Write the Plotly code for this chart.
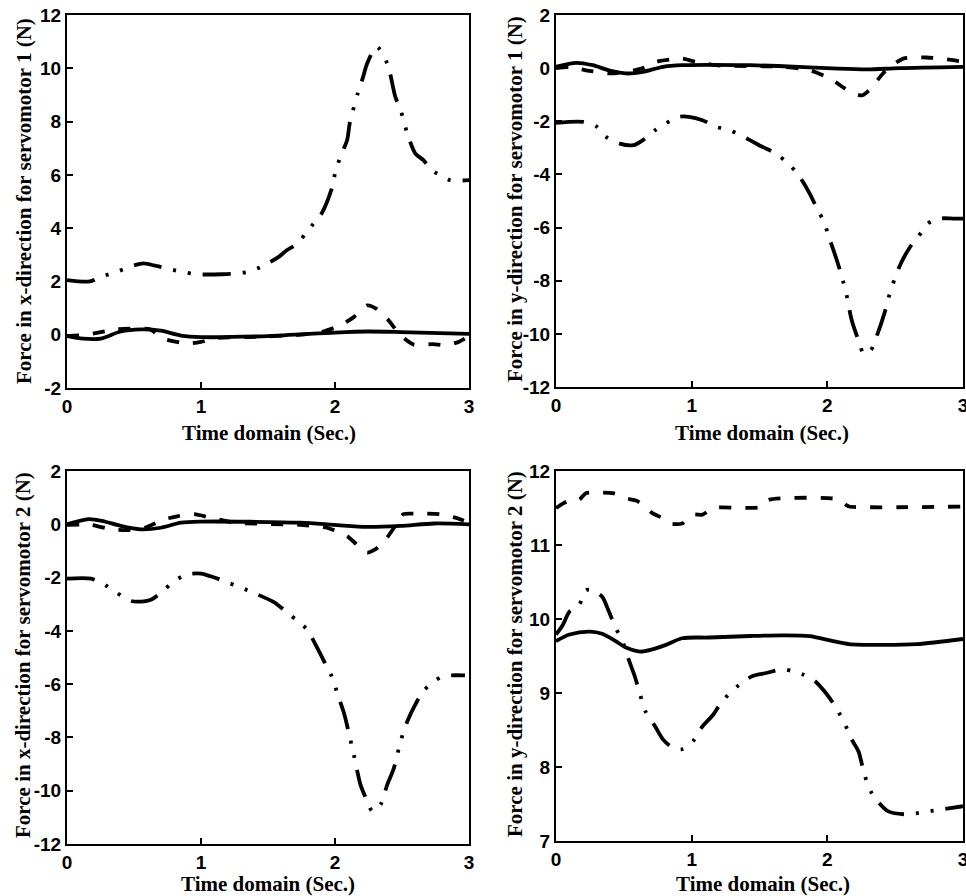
import plotly.graph_objects as go

# ---------------- data ----------------
# Panel 1: force in x-direction, servomotor 1
fx1_dd_t = [0, 0.17, 0.25, 0.37, 0.5, 0.57, 0.65, 0.75, 0.86, 0.96, 1.16, 1.26, 1.35, 1.45, 1.58, 1.64, 1.72, 1.78,
            1.84, 1.9, 1.98, 2.0, 2.04, 2.09, 2.11, 2.17, 2.21, 2.24, 2.31, 2.39, 2.45, 2.49, 2.54, 2.6, 2.66, 2.72,
            2.81, 2.86, 3.0]
fx1_dd_v = [2.05, 2.0, 2.17, 2.36, 2.6, 2.68, 2.6, 2.48, 2.36, 2.27, 2.27, 2.3, 2.36, 2.55, 2.92, 3.17, 3.42, 3.8,
            4.17, 4.55, 5.55, 6.05, 6.68, 7.3, 7.93, 9.06, 9.68, 10.18, 10.81, 10.18, 8.93, 8.43, 7.55, 6.8, 6.55,
            6.18, 5.93, 5.8, 5.8]
fx1_da_t = [0, 0.15, 0.37, 0.62, 0.72, 0.9, 1.0, 1.12, 1.4, 1.74, 1.9, 2.04, 2.14, 2.24, 2.31, 2.39, 2.49, 2.59,
            2.73, 2.83, 2.93, 3.0]
fx1_da_v = [-0.05, 0.0, 0.2, 0.2, -0.15, -0.33, -0.27, -0.12, -0.08, 0.0, 0.1, 0.35, 0.66, 1.1, 0.97, 0.6, -0.03,
            -0.38, -0.35, -0.4, -0.25, -0.05]
fx1_so_t = [0, 0.12, 0.25, 0.4, 0.55, 0.7, 0.85, 1.0, 1.5, 2.0, 2.24, 2.49, 3.0]
fx1_so_v = [-0.05, -0.15, -0.15, 0.12, 0.2, 0.15, -0.03, -0.09, -0.05, 0.08, 0.12, 0.1, 0.03]

# Panel 2: force in y-direction, servomotor 1
fy1_dd_t = [0, 0.2, 0.3, 0.37, 0.47, 0.57, 0.64, 0.73, 0.81, 0.91, 0.98, 1.08, 1.18, 1.28, 1.43, 1.52, 1.62, 1.71,
            1.78, 1.87, 1.93, 1.97, 2.02, 2.07, 2.1, 2.14, 2.18, 2.23, 2.27, 2.32, 2.37, 2.42, 2.46, 2.53, 2.61,
            2.67, 2.74, 2.83, 2.93, 3.0]
fy1_dd_v = [-2.06, -2.02, -2.2, -2.59, -2.84, -2.9, -2.71, -2.34, -2.08, -1.83, -1.83, -1.96, -2.21, -2.34, -2.71,
            -2.96, -3.21, -3.59, -3.97, -4.72, -5.35, -5.73, -6.48, -7.23, -7.73, -8.49, -9.49, -10.25, -10.75,
            -10.62, -10.0, -9.24, -8.49, -7.48, -6.73, -6.35, -5.85, -5.66, -5.66, -5.66]
fy1_da_t = [0, 0.1, 0.22, 0.39, 0.52, 0.64, 0.74, 0.81, 0.93, 1.03, 1.18, 1.67, 1.87, 2.02, 2.11, 2.19, 2.26, 2.32,
            2.41, 2.48, 2.56, 2.73, 2.88, 3.0]
fy1_da_v = [0, 0.05, -0.08, -0.2, -0.14, 0, 0.24, 0.3, 0.36, 0.24, 0.11, 0.05, -0.08, -0.39, -0.7, -0.95, -1.02,
            -0.77, -0.2, 0.11, 0.36, 0.4, 0.33, 0.24]
fy1_so_t = [0, 0.15, 0.27, 0.39, 0.52, 0.64, 0.79, 0.93, 1.43, 1.79, 2.04, 2.29, 2.53, 3.0]
fy1_so_v = [0.05, 0.2, 0.11, -0.08, -0.2, -0.14, 0.05, 0.11, 0.11, 0.05, -0.01, -0.05, 0, 0.05]

# Panel 3: force in x-direction, servomotor 2
fx2_dd_t = [0, 0.18, 0.28, 0.37, 0.48, 0.55, 0.63, 0.73, 0.8, 0.9, 1.0, 1.1, 1.2, 1.3, 1.42, 1.55, 1.63, 1.72,
            1.79, 1.88, 1.93, 1.98, 2.02, 2.07, 2.1, 2.14, 2.19, 2.23, 2.28, 2.34, 2.39, 2.44, 2.49, 2.54, 2.6,
            2.66, 2.74, 2.81, 2.97]
fx2_dd_v = [-2.04, -2.04, -2.26, -2.57, -2.88, -2.9, -2.82, -2.44, -2.13, -1.88, -1.85, -2.0, -2.19, -2.38, -2.63,
            -2.94, -3.26, -3.63, -3.94, -4.76, -5.26, -5.76, -6.39, -7.14, -7.77, -8.64, -9.77, -10.27, -10.77,
            -10.52, -9.77, -9.14, -8.14, -7.39, -6.76, -6.26, -5.89, -5.7, -5.67]
fx2_da_t = [0, 0.18, 0.33, 0.45, 0.58, 0.73, 0.83, 0.95, 1.07, 1.25, 1.74, 1.94, 2.09, 2.16, 2.24, 2.3, 2.36, 2.45,
            2.51, 2.59, 2.78, 2.91, 3.0]
fx2_da_v = [-0.02, -0.02, -0.19, -0.22, -0.13, 0.19, 0.31, 0.38, 0.25, 0.06, -0.02, -0.13, -0.44, -0.75, -1.06,
            -0.94, -0.69, -0.06, 0.38, 0.4, 0.38, 0.23, 0.06]
fx2_so_t = [0, 0.16, 0.26, 0.4, 0.55, 0.7, 0.85, 1.0, 1.74, 1.99, 2.24, 2.49, 2.74, 3.0]
fx2_so_v = [0, 0.19, 0.13, -0.06, -0.19, -0.13, 0.06, 0.1, 0.06, -0.02, -0.1, -0.06, 0.03, 0]

# Panel 4: force in y-direction, servomotor 2
fy2_dd_t = [0, 0.05, 0.1, 0.17, 0.22, 0.27, 0.34, 0.39, 0.44, 0.49, 0.54, 0.58, 0.62, 0.66, 0.73, 0.79, 0.86, 0.93,
            1.01, 1.08, 1.16, 1.2, 1.28, 1.35, 1.45, 1.55, 1.67, 1.75, 1.82, 1.91, 1.98, 2.04, 2.12, 2.18, 2.23,
            2.27, 2.32, 2.37, 2.45, 2.58, 2.68, 2.85, 3.0]
fy2_dd_v = [9.79, 9.92, 10.1, 10.19, 10.39, 10.39, 10.3, 10.1, 9.88, 9.7, 9.43, 9.23, 8.98, 8.75, 8.55, 8.37, 8.26,
            8.24, 8.35, 8.55, 8.71, 8.82, 9.0, 9.11, 9.23, 9.27, 9.32, 9.29, 9.25, 9.16, 9.02, 8.87, 8.62, 8.37,
            8.21, 7.92, 7.67, 7.54, 7.4, 7.36, 7.38, 7.43, 7.47]
fy2_da_t = [0, 0.05, 0.1, 0.17, 0.22, 0.3, 0.42, 0.52, 0.59, 0.66, 0.71, 0.79, 0.84, 0.93, 1.01, 1.08, 1.16, 1.5,
            1.57, 2.07, 2.14, 2.16, 3.0]
fy2_da_v = [11.5, 11.56, 11.6, 11.61, 11.7, 11.71, 11.7, 11.63, 11.6, 11.52, 11.43, 11.36, 11.29, 11.29, 11.41,
            11.41, 11.5, 11.51, 11.61, 11.62, 11.54, 11.52, 11.52]
fy2_so_t = [0, 0.1, 0.25, 0.34, 0.44, 0.52, 0.62, 0.71, 0.81, 0.93, 1.13, 1.43, 1.67, 1.87, 2.02, 2.16, 2.41, 2.66,
            3.0]
fy2_so_v = [9.7, 9.79, 9.83, 9.8, 9.7, 9.61, 9.56, 9.59, 9.65, 9.74, 9.75, 9.77, 9.78, 9.77, 9.71, 9.66, 9.65,
            9.66, 9.73]

x_ticks = [0, 1, 2, 3]
y_ticks = [[-2, 0, 2, 4, 6, 8, 10, 12],
           [-12, -10, -8, -6, -4, -2, 0, 2],
           [-12, -10, -8, -6, -4, -2, 0, 2],
           [7, 8, 9, 10, 11, 12]]
x_title = "Time domain (Sec.)"
y_titles = ["Force in x-direction for servomotor 1 (N)",
            "Force in y-direction for servomotor 1 (N)",
            "Force in x-direction for servomotor 2 (N)",
            "Force in y-direction for servomotor 2 (N)"]
y_ranges = [[-2, 12], [-12, 2], [-12, 2], [7, 12]]

# ---------------- figure ----------------
W, H = 966, 896
DD = "28px,12px,3px,12px,3px,12px"
DA = "12px,14px"
LW = 3.8

panels = [
    (fx1_so_t, fx1_so_v, fx1_da_t, fx1_da_v, fx1_dd_t, fx1_dd_v),
    (fy1_so_t, fy1_so_v, fy1_da_t, fy1_da_v, fy1_dd_t, fy1_dd_v),
    (fx2_so_t, fx2_so_v, fx2_da_t, fx2_da_v, fx2_dd_t, fx2_dd_v),
    (fy2_so_t, fy2_so_v, fy2_da_t, fy2_da_v, fy2_dd_t, fy2_dd_v),
]

fig = go.Figure()
for i, (st, sv, dt, dv, ddt, ddv) in enumerate(panels):
    ax = "" if i == 0 else str(i + 1)
    fig.add_trace(go.Scatter(x=ddt, y=ddv, mode="lines", xaxis="x" + ax, yaxis="y" + ax,
                             line=dict(color="black", width=LW, dash=DD, shape="spline", smoothing=0.8),
                             showlegend=False))
    fig.add_trace(go.Scatter(x=dt, y=dv, mode="lines", xaxis="x" + ax, yaxis="y" + ax,
                             line=dict(color="black", width=LW, dash=DA, shape="spline", smoothing=0.6),
                             showlegend=False))
    fig.add_trace(go.Scatter(x=st, y=sv, mode="lines", xaxis="x" + ax, yaxis="y" + ax,
                             line=dict(color="black", width=LW, shape="spline", smoothing=0.8),
                             showlegend=False))

tick_font = dict(family="Liberation Sans, Arial, sans-serif", size=19, color="black", weight=700)
title_font = dict(family="Liberation Serif, Times New Roman, serif", size=21, color="black", weight=700)

# plot-area boxes in page pixels (left, right, top, bottom)
boxes = [(67, 469, 15, 388), (556, 963, 15, 387), (67, 469, 471, 844), (556, 963, 471, 841)]
# title centres in page pixels
ytitle_pos = [(24, 201), (515, 199), (23, 655), (515, 654)]
xtitle_pos = [(269, 433), (762, 433), (268, 884), (763, 884)]

axis_common = dict(showline=True, linewidth=2, linecolor="black", mirror=True, ticks="inside", ticklen=6,
                   tickwidth=1.5, tickcolor="black", showgrid=False, zeroline=False, tickfont=tick_font,
                   automargin=False, ticklabeloverflow="allow")

layout = dict(width=W, height=H, margin=dict(l=0, r=0, t=0, b=0, autoexpand=False), paper_bgcolor="white",
              plot_bgcolor="white", showlegend=False)
annotations = []
for i in range(4):
    ax = "" if i == 0 else str(i + 1)
    l, r, t, b = boxes[i]
    layout["xaxis" + ax] = dict(domain=[l / W, r / W], range=[0, 3], tickmode="array", tickvals=x_ticks,
                                ticktext=["<b>%d</b>" % v for v in x_ticks], anchor="y" + ax,
                                ticklabelstandoff=0, **axis_common)
    layout["yaxis" + ax] = dict(domain=[1 - b / H, 1 - t / H], range=y_ranges[i], tickmode="array",
                                tickvals=y_ticks[i], ticktext=["<b>%d</b>" % v for v in y_ticks[i]],
                                anchor="x" + ax, ticklabelstandoff=0, **axis_common)
    yx, yy = ytitle_pos[i]
    annotations.append(dict(text="<b>" + y_titles[i] + "</b>", xref="paper", yref="paper", x=yx / W,
                            y=1 - yy / H, xanchor="center", yanchor="middle", textangle=-90,
                            showarrow=False, font=title_font))
    xx, xy = xtitle_pos[i]
    annotations.append(dict(text="<b>" + x_title + "</b>", xref="paper", yref="paper", x=xx / W,
                            y=1 - xy / H, xanchor="center", yanchor="middle",
                            showarrow=False, font=title_font))
layout["annotations"] = annotations

fig.update_layout(**layout)
fig.write_html("out.html", config={"displayModeBar": False},
               post_script="document.body.style.margin='0px';")
